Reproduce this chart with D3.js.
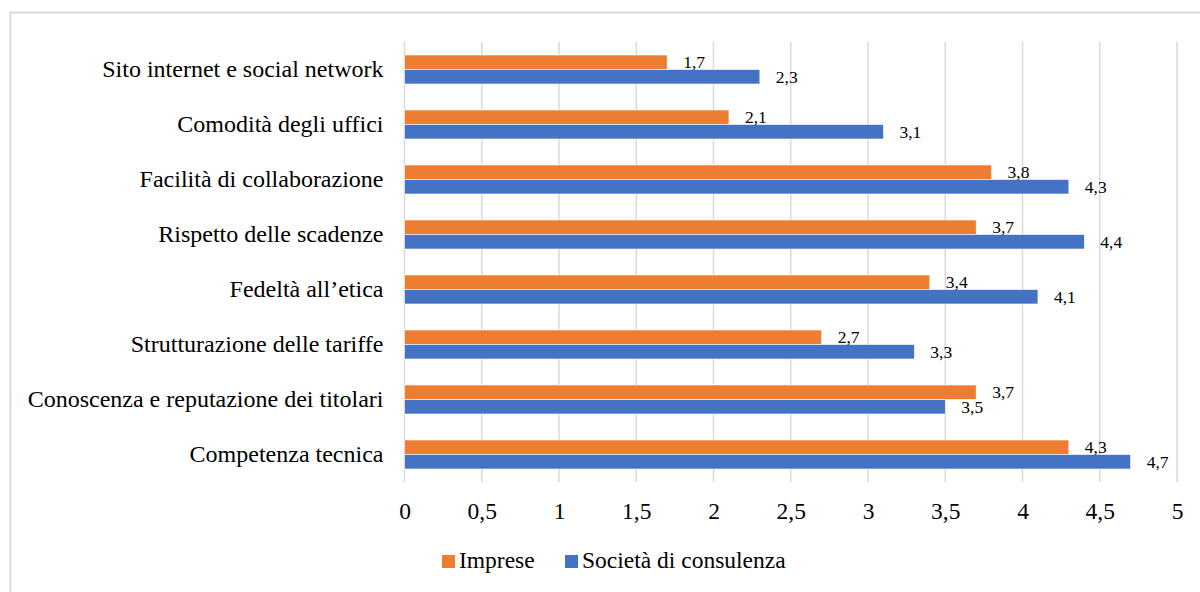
<!DOCTYPE html>
<html>
<head>
<meta charset="utf-8">
<script src="https://cdn.jsdelivr.net/npm/d3@7"></script>
<style>
  html, body { margin: 0; padding: 0; background: #fff; }
  svg, svg text { font-family: "Liberation Serif", "Times New Roman", Times, serif !important; }
</style>
</head>
<body>
<svg id="chart" width="1200" height="592"></svg>
<script>
// Categories, top to bottom
const categories = [
  "Sito internet e social network",
  "Comodità degli uffici",
  "Facilità di collaborazione",
  "Rispetto delle scadenze",
  "Fedeltà all’etica",
  "Strutturazione delle tariffe",
  "Conoscenza e reputazione dei titolari",
  "Competenza tecnica"
];
const imprese = [1.7, 2.1, 3.8, 3.7, 3.4, 2.7, 3.7, 4.3];
const societa = [2.3, 3.1, 4.3, 4.4, 4.1, 3.3, 3.5, 4.7];
const seriesNames = ["Imprese", "Società di consulenza"];
const seriesColors = ["#ED7D31", "#4472C4"];
const xTicks = [0, 0.5, 1, 1.5, 2, 2.5, 3, 3.5, 4, 4.5, 5];

const fmt = v => String(v).replace(".", ",");
const serif = "'Liberation Serif', 'Times New Roman', serif";

const svg = d3.select("#chart");

// Outer frame
svg.append("rect")
  .attr("x", 10.5).attr("y", 12.5)
  .attr("width", 1300).attr("height", 700)
  .attr("fill", "none").attr("stroke", "#d9d9d9").attr("stroke-width", 2);

const plot = { left: 404.5, right: 1177, top: 42, bottom: 482 };

const x = d3.scaleLinear().domain([0, 5]).range([plot.left, plot.right]);
const y = d3.scaleBand().domain(categories)
  .range([plot.top, plot.bottom])
  .paddingInner(0.4727).paddingOuter(0.2364);
const ySub = d3.scaleBand().domain(seriesNames).range([0, y.bandwidth()]);

// Vertical gridlines
svg.append("g").selectAll("line").data(xTicks).join("line")
  .attr("x1", d => x(d)).attr("x2", d => x(d))
  .attr("y1", plot.top).attr("y2", plot.bottom)
  .attr("stroke", "#d9d9d9").attr("stroke-width", 1.5);

// X axis labels
const xAxis = d3.axisBottom(x).tickValues(xTicks).tickFormat(fmt).tickSize(0).tickPadding(0);
const gx = svg.append("g").attr("transform", `translate(0,${plot.bottom})`).call(xAxis);
gx.attr("font-family", null).attr("font-size", null);
gx.select(".domain").remove();
gx.selectAll("text")
  .style("font-family", serif).style("font-size", "23.5px")
  .attr("fill", "#000").attr("dy", null).attr("y", 36.5);

// Y axis labels
const yAxis = d3.axisLeft(y).tickSize(0).tickPadding(21);
const gy = svg.append("g").attr("transform", `translate(${plot.left},0)`).call(yAxis);
gy.attr("font-family", null).attr("font-size", null);
gy.select(".domain").remove();
gy.selectAll("text")
  .style("font-family", serif).style("font-size", "24px")
  .attr("fill", "#000");

// Bars
const rows = categories.map((c, i) => ({ c, vals: [imprese[i], societa[i]] }));
const groups = svg.append("g").selectAll("g").data(rows).join("g")
  .attr("transform", d => `translate(0,${y(d.c)})`);

groups.selectAll("rect").data(d => d.vals.map((v, k) => ({ v, k }))).join("rect")
  .attr("x", x(0))
  .attr("y", d => ySub(seriesNames[d.k]))
  .attr("width", d => x(d.v) - x(0))
  .attr("height", ySub.bandwidth())
  .attr("fill", d => seriesColors[d.k])
  .attr("stroke", "#fff").attr("stroke-width", 0.6);

// Value labels
groups.selectAll("text").data(d => d.vals.map((v, k) => ({ v, k }))).join("text")
  .attr("x", d => x(d.v) + 16)
  .attr("y", d => ySub(seriesNames[d.k]) + ySub.bandwidth() / 2)
  .attr("dy", "0.35em")
  .style("font-family", serif).style("font-size", "17.5px").attr("fill", "#000")
  .text(d => fmt(d.v));

// Legend
const legendItems = [
  { name: seriesNames[0], color: seriesColors[0], x: 442 },
  { name: seriesNames[1], color: seriesColors[1], x: 565 }
];
const lg = svg.append("g").selectAll("g").data(legendItems).join("g")
  .attr("transform", d => `translate(${d.x},555)`);
lg.append("rect").attr("width", 13).attr("height", 13).attr("fill", d => d.color);
lg.append("text").attr("x", 17).attr("y", 13)
  .style("font-family", serif).style("font-size", "23.5px").attr("fill", "#000")
  .text(d => d.name);
</script>
</body>
</html>
